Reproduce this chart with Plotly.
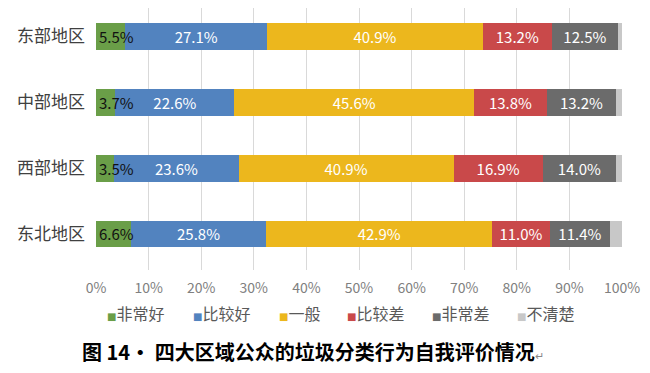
import plotly.graph_objects as go

regions = ["东部地区", "中部地区", "西部地区", "东北地区"]
series_names = ["非常好", "比较好", "一般", "比较差", "非常差", "不清楚"]
very_good = [5.5, 3.7, 3.5, 6.6]
good = [27.1, 22.6, 23.6, 25.8]
average = [40.9, 45.6, 40.9, 42.9]
poor = [13.2, 13.8, 16.9, 11.0]
very_poor = [12.5, 13.2, 14.0, 11.4]
unclear = [0.8, 1.1, 1.1, 2.3]
x_ticks = [0, 10, 20, 30, 40, 50, 60, 70, 80, 90, 100]
x_tick_labels = ["0%", "10%", "20%", "30%", "40%", "50%", "60%", "70%", "80%", "90%", "100%"]
caption = "图 14· 四大区域公众的垃圾分类行为自我评价情况"

values = [very_good, good, average, poor, very_poor, unclear]
colors = ["#6A9E48", "#5283BF", "#ECB71D", "#C9494A", "#6B6B6B", "#C8C8C8"]
label_colors = [None, "white", "white", "white", "white", None]

# page body has an 8px margin, so the figure is sized/placed to compensate
OFF = 8
W, H = 650 - OFF, 373 - OFF
L, R, T, B = 96 - OFF, 28, 0, 103
plot_w = W - L - R
plot_h = H - T - B
label_font = "Liberation Sans Narrow, Noto Sans CJK SC, sans-serif"

fig = go.Figure()
for name, vals, col, lc in zip(series_names, values, colors, label_colors):
    fig.add_trace(go.Bar(
        y=regions, x=vals, name=name, orientation="h",
        marker=dict(color=col, line=dict(width=0)),
        text=[f"{v:.1f}%" for v in vals] if lc else None,
        textposition="inside" if lc else "none",
        insidetextanchor="middle",
        constraintext="none",
        textangle=0,
        cliponaxis=False,
        textfont=dict(color=lc if lc else "white", size=15, family=label_font),
        hoverinfo="skip",
        showlegend=False,
    ))

# labels of the narrow first segment overflow onto the next bar: draw them on top
for reg, v in zip(regions, very_good):
    fig.add_annotation(
        x=0, y=reg, xref="x", yref="y", xanchor="left", yanchor="middle",
        xshift=1, showarrow=False, text=f"{v:.1f}%",
        font=dict(size=15, color="#111111", family=label_font),
    )

fig.update_layout(
    width=W, height=H,
    barmode="stack", bargap=0.59,
    plot_bgcolor="white", paper_bgcolor="white",
    margin=dict(l=L, r=R, t=T, b=B),
    showlegend=False,
    font=dict(family="Noto Sans CJK SC"),
)
fig.update_xaxes(range=[0, 100], tickvals=x_ticks, ticktext=x_tick_labels,
                 showgrid=True, gridcolor="#D9D9D9", gridwidth=1,
                 zeroline=False, showline=False, ticks="",
                 tickfont=dict(size=14, color="#808080", family=label_font),
                 ticklabelstandoff=8, fixedrange=True)
fig.update_yaxes(range=[3.547, -0.433], showgrid=False, ticks="",
                 tickfont=dict(size=17, color="#404040", family="Noto Sans CJK SC"),
                 ticklabelstandoff=10, fixedrange=True)

# custom legend (small square + label), placed under the axis
legend_px = [105, 191, 277, 345, 430, 515]
legend_y = (plot_h - (313 - OFF - T)) / plot_h
for name, col, px in zip(series_names, colors, legend_px):
    fig.add_annotation(
        xref="paper", yref="paper", x=(px - OFF - L) / plot_w, y=legend_y,
        xanchor="left", yanchor="middle", showarrow=False,
        text=(f"<span style='font-family:DejaVu Sans;font-size:10px;color:{col}'>■</span>"
              f"<span style='color:#595959'>{name}</span>"),
        font=dict(size=16, color="#595959", family="Noto Sans CJK SC"),
    )

fig.add_annotation(
    xref="paper", yref="paper", x=(80 - OFF - L) / plot_w,
    y=(plot_h - (351 - OFF - T)) / plot_h,
    xanchor="left", yanchor="middle", showarrow=False,
    text=f"<b>{caption}</b><span style='font-size:11px;color:#888'>↵</span>",
    font=dict(size=20, color="black", family="Noto Sans CJK SC"),
)

fig.write_html("out.html")
